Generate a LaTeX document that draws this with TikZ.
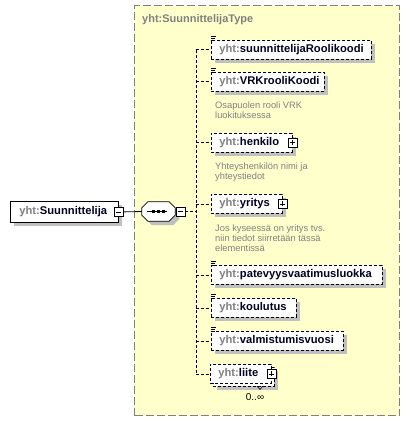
\documentclass[tikz,border=0pt]{standalone}
\usepackage{fontspec}
\setmainfont{Liberation Sans}
\usetikzlibrary{shapes.misc,shadows,calc}
\definecolor{bgyellow}{RGB}{255,255,204}
\definecolor{framegray}{RGB}{128,128,128}
\definecolor{shadowgray}{RGB}{192,192,192}
\definecolor{pfx}{RGB}{128,128,128}
\definecolor{docgray}{RGB}{128,128,128}
\definecolor{namec}{RGB}{0,0,32}
\newcommand\elname[3]{\makebox[#1pt][l]{\hspace*{#2pt}\textcolor{pfx}{yht:}\textcolor{namec}{#3}}}
\newcommand\simpleicon[1]{\draw[line width=0.6pt] ($(#1.north west)+(-0.5,-3.5)$) -- ++(5,0) ($(#1.north west)+(-0.5,-1.8)$) -- ++(4,0) ($(#1.north west)+(-0.5,-0.1)$) -- ++(4,0);}
\tikzset{
  shd/.style={drop shadow={shadow xshift=4pt,shadow yshift=-4pt,fill=shadowgray,opacity=1}},
  elembase/.style={draw, line width=0.8pt, fill=white, anchor=north west, minimum height=19pt,
    inner xsep=0pt, inner ysep=0pt, font=\fontsize{11.2}{13}\selectfont\bfseries},
  elem/.style={elembase, dash pattern=on 3pt off 2pt, shd},
  elemns/.style={elembase, dash pattern=on 3pt off 2pt},
  mainel/.style={elembase, minimum height=21pt, shd},
  pm/.style={draw, solid, fill=white, minimum size=9pt, inner sep=0pt, line width=0.7pt},
  plusbox/.style={pm, path picture={\draw[line width=0.8pt]
      ([xshift=2pt]path picture bounding box.west) -- ([xshift=-2pt]path picture bounding box.east)
      ([yshift=-2pt]path picture bounding box.north) -- ([yshift=2pt]path picture bounding box.south);}},
  minusbox/.style={pm, path picture={\draw[line width=0.8pt]
      ([xshift=2pt]path picture bounding box.west) -- ([xshift=-2pt]path picture bounding box.east);}},
  conn/.style={line width=0.8pt, dash pattern=on 3pt off 2pt},
  doctext/.style={anchor=base west, inner sep=0pt, align=left, text=docgray,
    font=\fontsize{9.3}{10}\selectfont},
  typebox/.style={draw=framegray, fill=bgyellow, line width=1.2pt, dash pattern=on 8pt off 3pt,
    anchor=north west, inner sep=0pt}
}
\begin{document}
\begin{tikzpicture}[x=1pt,y=-1pt]
\useasboundingbox (0,0) rectangle (410,422);
% type box
\node[typebox, minimum width=265pt, minimum height=410pt] (tb) at (134,5) {};
\node[anchor=base west, inner sep=0pt, text=pfx, font=\fontsize{11}{13}\selectfont\bfseries] (title) at (142,23) {yht:SuunnittelijaType};
% main element
\node[mainel] (main) at (10,201) {\elname{108}{9}{Suunnittelija}};
\node[minusbox] (mm) at (main.east) {};
% sequence
\node[minimum width=33pt, minimum height=19pt, inner sep=0pt] (seq) at (158.5,211.5) {};
\filldraw[fill=white, line width=0.8pt, shd]
  ($(seq.north west)+(6,0)$) -- ($(seq.north east)+(-6,0)$) -- ($(seq.north east)+(0,6)$)
  -- ($(seq.south east)+(0,-6)$) -- ($(seq.south east)+(-6,0)$) -- ($(seq.south west)+(6,0)$)
  -- ($(seq.south west)+(0,-6)$) -- ($(seq.north west)+(0,6)$) -- cycle;
\draw[line width=0.8pt] ($(seq.center)+(-12,0)$) -- ($(seq.center)+(8,0)$);
\foreach \dx in {-5,0,5} \fill ($(seq.center)+(\dx-1.5,-1.5)$) rectangle ++(3,3);
\node[minusbox] (sm) at (180.5,211.5) {};
\draw[line width=0.8pt] (mm.east) -- (seq.west);
% children
\node[elem] (c1) at (211,40) {\elname{160}{8}{suunnittelijaRoolikoodi}};
\node[elem] (c2) at (211,72) {\elname{113}{8}{VRKrooliKoodi}};
\node[elem] (c3) at (211,133) {\elname{81}{8}{henkilo}};
\node[elem] (c4) at (211,194) {\elname{71}{8}{yritys}};
\node[elem] (c5) at (211,265) {\elname{171}{8}{patevyysvaatimusluokka}};
\node[elem] (c6) at (211,298) {\elname{85}{8}{koulutus}};
\node[elem] (c7) at (211,331) {\elname{132}{8}{valmistumisvuosi}};
\node[elem] (c8b) at (213,367) {\makebox[61pt]{}};
\node[elemns] (c8) at (210,364) {\elname{61}{8}{liite}};
\node[plusbox] (p3) at (c3.east) {};
\node[plusbox] (p4) at (c4.east) {};
\node[plusbox] (p8) at (c8.east) {};
\simpleicon{c1}
\simpleicon{c2}
\simpleicon{c5}
\simpleicon{c6}
\simpleicon{c7}
% documentation (base = last line)
\node[doctext] (d2) at (215,118.5) {Osapuolen rooli VRK\\luokituksessa};
\node[doctext] (d3) at (215,179) {Yhteyshenkilön nimi ja\\yhteystiedot};
\node[doctext] (d4) at (215,251.7) {Jos kyseessä on yritys tvs.\\niin tiedot siirretään tässä\\elementissä};
% occurrence
\node[inner sep=0pt, font=\fontsize{10}{11}\selectfont] (occ) at (255,397.5) {0..∞};
\draw[line width=0.6pt] (257,386) -- (260,389.5) -- (263,386);
% connectors
\coordinate (sp) at (196,0);
\draw[conn] (sm.east) -- (sm.east -| sp);
\draw[conn] (c1.west -| sp) -- (c8.west -| sp);
\foreach \c in {c1,c2,c3,c4,c5,c6,c7,c8} \draw[conn] (\c.west -| sp) -- (\c.west);
\end{tikzpicture}
\end{document}
